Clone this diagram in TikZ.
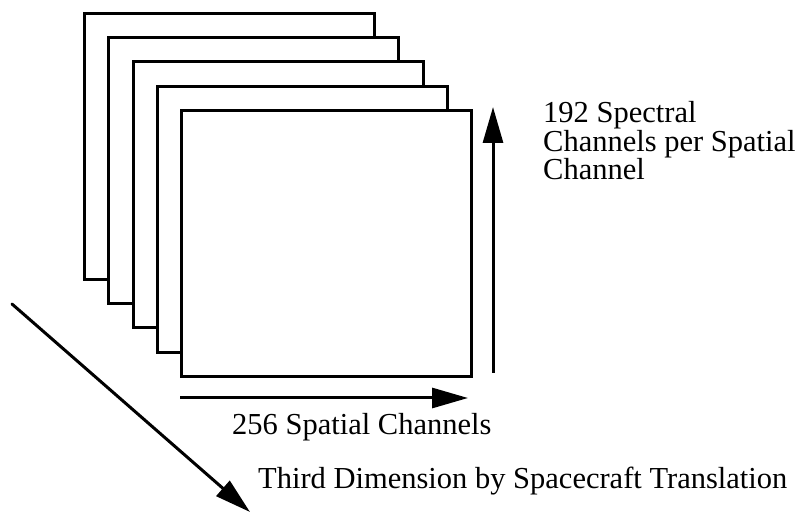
\documentclass[tikz,border=0pt]{standalone}
\usepackage{fontspec}
\setmainfont{Liberation Serif}
\usetikzlibrary{arrows.meta}
\tikzset{
  plane/.style={draw=black,fill=white,line width=3pt,inner sep=0pt,
    minimum width=290pt,minimum height=266pt,anchor=north west},
  axisarrow/.style={line width=3pt,-{Triangle[length=36pt,width=20pt]}},
  labeltext/.style={font=\fontsize{30.5}{28.5}\selectfont,inner sep=0pt}
}

\begin{document}
\begin{tikzpicture}[x=1pt,y=-1pt]

  % Fixed bounding box, same size as the reference image
  \useasboundingbox (0,0) rectangle (807,513);

  % ---------------- Stack of image planes (back to front) ----------------
  \foreach \i in {0,...,4}{
    \node[plane] (plane\i) at ({83+24.25*\i},{12+24.25*\i}) {};
  }

  % ---------------- Axis arrows ----------------
  \coordinate (xstart) at (180,398);
  \coordinate (xend)   at (468,398);
  \coordinate (ystart) at (493,373);
  \coordinate (yend)   at (493,107);
  \coordinate (zstart) at (12,304);
  \coordinate (zend)   at (250,512);

  \draw[axisarrow] (xstart) -- (xend);
  \draw[axisarrow] (ystart) -- (yend);
  \draw[axisarrow,line cap=round] (zstart) -- (zend);

  % ---------------- Labels ----------------
  % base anchor of a multi-line node sits on its last line
  \node[labeltext,align=left,anchor=base west] (spectral) at (543,180)
    {192 Spectral\\Channels per Spatial\\Channel};
  \node[labeltext,anchor=base west] (spatial) at (232,435) {256 Spatial Channels};
  \node[labeltext,anchor=base west] (third) at (258,489)
    {Third Dimension by Spacecraft Translation};

\end{tikzpicture}
\end{document}
